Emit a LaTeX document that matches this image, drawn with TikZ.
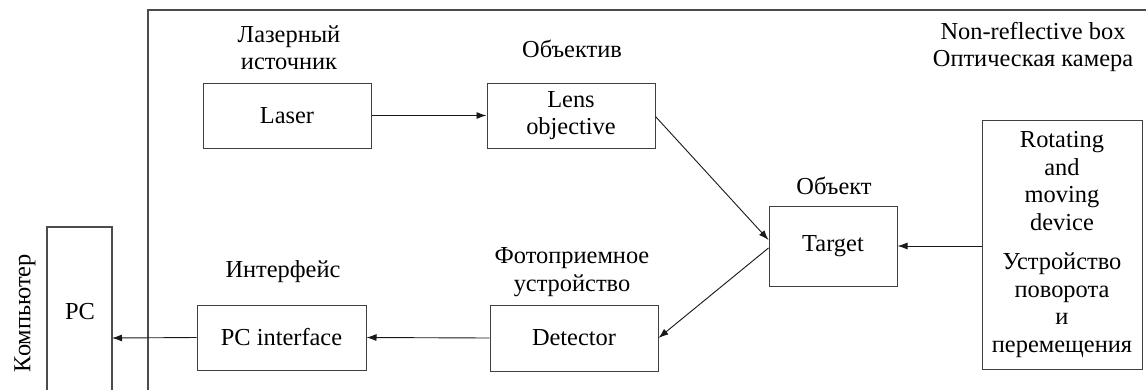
\documentclass[tikz,border=0pt]{standalone}
\usepackage{fontspec}
\setmainfont{Liberation Serif}
\usetikzlibrary{arrows.meta}
\begin{document}
\begin{tikzpicture}[x=1pt,y=-1pt,
  txt/.style={inner sep=0pt,align=center,font=\fontsize{24.4}{27.5}\selectfont},
  box/.style={txt,draw=black!75,line width=1pt},
  arr/.style={draw=black!90,line width=0.9pt,-{Latex[length=10pt,width=7pt]}},
  frame/.style={draw=black!70,line width=1.1pt}]
\useasboundingbox[fill=white] (0,0) rectangle (1146,389);
% outer box (open to right and bottom)
\draw[frame] (148,395) -- (148,10) -- (1152,10);
% PC box (open at bottom)
\draw[frame] (47,395) -- (47,227) -- (112,227) -- (112,395);
\node[txt] (pc) at (80,312) {PC};
\coordinate (pcin) at (112,338);
\node[txt,rotate=90] (komp) at (25,313) {Компьютер};
% boxes
\node[box,minimum width=168pt,minimum height=65pt] (laser) at (287,115.5) {Laser};
\node[box,minimum width=168pt,minimum height=65pt] (lens) at (571,115.5) {Lens\\objective};
\node[box,minimum width=128pt,minimum height=80pt] (target) at (833,246) {Target};
\node[box,minimum width=160pt,minimum height=249pt] (rot) at (1062,244.5)
  {Rotating\\and\\moving\\device\\[12pt]Устройство\\поворота\\и\\перемещения};
\node[box,minimum width=168pt,minimum height=66pt] (det) at (574,338) {Detector};
\node[box,minimum width=169pt,minimum height=65pt] (pcif) at (281.5,337.5) {PC interface};
% labels
\node[txt] (l1) at (289,48) {Лазерный\\источник};
\node[txt] (l2) at (572,49) {Объектив};
\node[txt] (l3) at (834,186) {Объект};
\node[txt] (l4) at (1033,47) {Non-reflective box\\Оптическая камера};
\node[txt] (l5) at (572,272) {Фотоприемное\\устройство};
\node[txt] (l6) at (283,272) {Интерфейс};
% arrows
\draw[arr] (laser.east) -- (lens.west);
\draw[arr] ([yshift=-1pt]lens.east) -- ([yshift=6pt]target.west);
\draw[arr] (rot.west |- target.east) -- (target.east);
\draw[arr] ([yshift=-2pt]target.west) -- (det.east);
\draw[arr] (det.west) -- (pcif.west -| pcif.east);
\draw[arr] (pcif.west) -- (pcin);
\end{tikzpicture}
\end{document}
